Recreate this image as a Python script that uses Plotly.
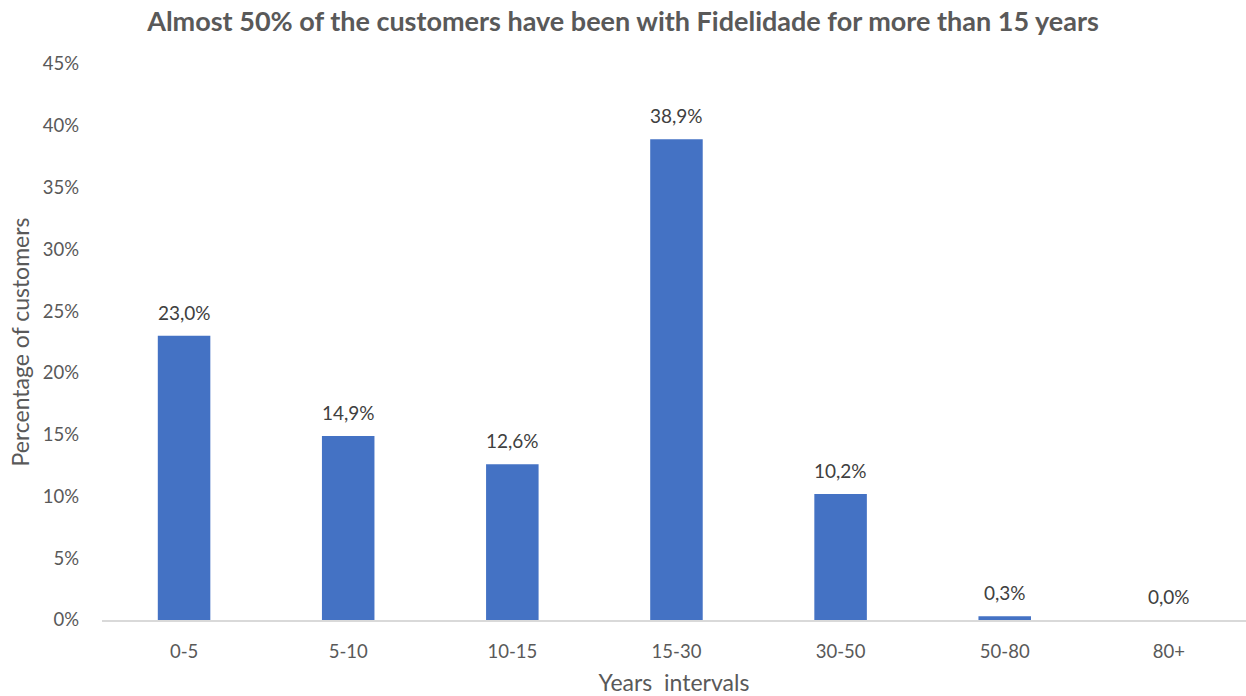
import plotly.graph_objects as go

intervals = ["0-5", "5-10", "10-15", "15-30", "30-50", "50-80", "80+"]
share = [0.230, 0.149, 0.126, 0.389, 0.102, 0.003, 0.000]

font_family = "Lato, 'Open Sans', sans-serif"


def pct_label(v):
    return f"{v * 100:.1f}%".replace(".", ",")


fig = go.Figure(
    go.Bar(
        x=intervals,
        y=share,
        width=0.32,
        marker=dict(color="#4472C4", line=dict(width=0)),
        hoverinfo="x+y",
    )
)

# value labels sitting above each bar
for cat, v in zip(intervals, share):
    fig.add_annotation(
        x=cat,
        y=v,
        text=pct_label(v),
        showarrow=False,
        yanchor="bottom",
        yshift=10,
        font=dict(family=font_family, size=19, color="#404040"),
    )

fig.update_layout(
    width=1246,
    height=696,
    margin=dict(l=102, r=0, t=64, b=76),
    paper_bgcolor="white",
    plot_bgcolor="white",
    separators=",.",
    showlegend=False,
    title=dict(
        text="<b>Almost 50% of the customers have been with Fidelidade for more than 15 years</b>",
        x=0.5,
        xref="container",
        xanchor="center",
        y=1 - 22 / 696,
        yanchor="middle",
        font=dict(family=font_family, size=27, color="#595959"),
    ),
    xaxis=dict(
        type="category",
        range=[-0.5, 6.47],
        showgrid=False,
        showline=True,
        linecolor="#D9D9D9",
        linewidth=1.5,
        ticks="",
        ticklabelstandoff=14,
        tickfont=dict(family=font_family, size=18.5, color="#595959"),
        automargin=False,
        title=dict(
            text="Years  intervals",
            font=dict(family=font_family, size=23, color="#595959"),
            standoff=15,
        ),
    ),
    yaxis=dict(
        range=[0, 0.45],
        dtick=0.05,
        tickformat=".0%",
        showgrid=False,
        zeroline=False,
        showline=False,
        ticks="",
        ticklabelstandoff=22,
        tickfont=dict(family=font_family, size=18.5, color="#595959"),
        automargin=False,
        title=dict(
            text="Percentage of customers",
            font=dict(family=font_family, size=23, color="#595959"),
            standoff=6,
        ),
    ),
)

fig.write_html("out.html")
